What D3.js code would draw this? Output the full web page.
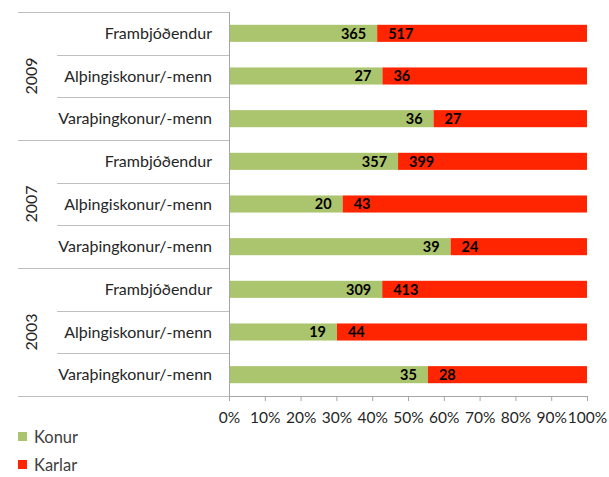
<!DOCTYPE html>
<html>
<head>
<meta charset="utf-8">
<script src="https://cdn.jsdelivr.net/npm/d3@7"></script>
<style>
  body { margin: 0; background: #fff; }
  svg text { font-family: Lato, "Open Sans", sans-serif; }
</style>
</head>
<body>
<svg id="chart" width="609" height="477"></svg>
<script>
var years = ['2009', '2007', '2003'];
var roles = ['Frambjóðendur', 'Alþingiskonur/-menn', 'Varaþingkonur/-menn'];
var konur = [365, 27, 36, 357, 20, 39, 309, 19, 35];
var karlar = [517, 36, 27, 399, 43, 24, 413, 44, 28];
var seriesNames = ['Konur', 'Karlar'];
var ticks = [0, 0.1, 0.2, 0.3, 0.4, 0.5, 0.6, 0.7, 0.8, 0.9, 1];

var colors = { Konur: '#abc56f', Karlar: '#ff2500' };

// build rows
var rows = [];
years.forEach(function(y, gi) {
    roles.forEach(function(r, ri) {
        var i = gi * roles.length + ri;
        rows.push({ key: y + '|' + r, year: y, role: r, Konur: konur[i], Karlar: karlar[i] });
    });
});

var svg = d3.select('#chart');
var plotLeft = 229, plotRight = 587, plotTop = 12, plotBottom = 396;

var x = d3.scaleLinear().domain([0, 1]).range([plotLeft, plotRight]);
var y = d3.scaleBand().domain(rows.map(function(d) { return d.key; })).range([plotTop, plotBottom]);
var barH = y.step() * 0.4;

var stacked = d3.stack().keys(seriesNames).offset(d3.stackOffsetExpand)(rows);

// category separators
var grid = svg.append('g').attr('stroke', '#bfbfbf').attr('stroke-width', 1);
rows.forEach(function(d, i) {
    var yy = Math.round(y(d.key)) + 0.5;
    var x0 = (i % roles.length === 0) ? 18 : 57;
    grid.append('line').attr('x1', x0).attr('x2', plotLeft).attr('y1', yy).attr('y2', yy);
});
grid.append('line').attr('x1', 18).attr('x2', plotLeft)
    .attr('y1', plotBottom + 0.5).attr('y2', plotBottom + 0.5);

// bars
stacked.forEach(function(s) {
    svg.append('g').selectAll('rect').data(s).enter().append('rect')
        .attr('x', function(d) { return x(d[0]); })
        .attr('width', function(d) { return x(d[1]) - x(d[0]); })
        .attr('y', function(d) { return y(d.data.key) + (y.step() - barH) / 2; })
        .attr('height', barH)
        .attr('fill', colors[s.key]);
});

// data labels
var labels = svg.append('g').attr('font-size', 14.5).attr('font-weight', 'bold').attr('fill', '#000');
stacked[0].forEach(function(d) {
    labels.append('text')
        .attr('x', x(d[1]) - 11)
        .attr('y', y(d.data.key) + y.step() / 2)
        .attr('dy', '0.36em')
        .attr('text-anchor', 'end')
        .text(d.data.Konur);
});
stacked[1].forEach(function(d) {
    labels.append('text')
        .attr('x', x(d[0]) + 11)
        .attr('y', y(d.data.key) + y.step() / 2)
        .attr('dy', '0.36em')
        .attr('text-anchor', 'start')
        .text(d.data.Karlar);
});

// x axis
var xAxis = svg.append('g')
    .attr('transform', 'translate(0,' + plotBottom + ')')
    .call(d3.axisBottom(x).tickValues(ticks).tickFormat(d3.format('.0%')).tickSize(5).tickPadding(11));
xAxis.select('.domain').attr('stroke', '#a6a6a6');
xAxis.selectAll('.tick line').attr('stroke', '#a6a6a6');
xAxis.selectAll('.tick text').attr('font-size', 15.5).attr('fill', '#262626')
    .attr('font-family', 'Lato, sans-serif');

// y axis line
svg.append('line').attr('x1', plotLeft + 0.5).attr('x2', plotLeft + 0.5)
    .attr('y1', plotTop).attr('y2', plotBottom + 5)
    .attr('stroke', '#a6a6a6');

// category labels
svg.append('g').selectAll('text').data(rows).enter().append('text')
    .attr('x', 212)
    .attr('y', function(d) { return y(d.key) + y.step() / 2; })
    .attr('dy', '0.36em')
    .attr('text-anchor', 'end')
    .attr('font-size', 16)
    .attr('fill', '#262626')
    .text(function(d) { return d.role; });

// year labels
years.forEach(function(yr, gi) {
    var k0 = rows[gi * roles.length].key;
    var cy = y(k0) + y.step() * roles.length / 2;
    svg.append('text')
        .attr('transform', 'translate(37,' + cy + ') rotate(-90)')
        .attr('text-anchor', 'middle')
        .attr('font-size', 16)
        .attr('fill', '#262626')
        .text(yr);
});

// legend
var legend = svg.append('g');
seriesNames.forEach(function(n, i) {
    var ly = 437 + i * 28;
    legend.append('rect').attr('x', 18).attr('y', ly - 5).attr('width', 9).attr('height', 9)
        .attr('fill', colors[n]);
    legend.append('text').attr('x', 34).attr('y', ly).attr('dy', '0.36em')
        .attr('font-size', 16.5).attr('fill', '#404040').text(n);
});
</script>
</body>
</html>
